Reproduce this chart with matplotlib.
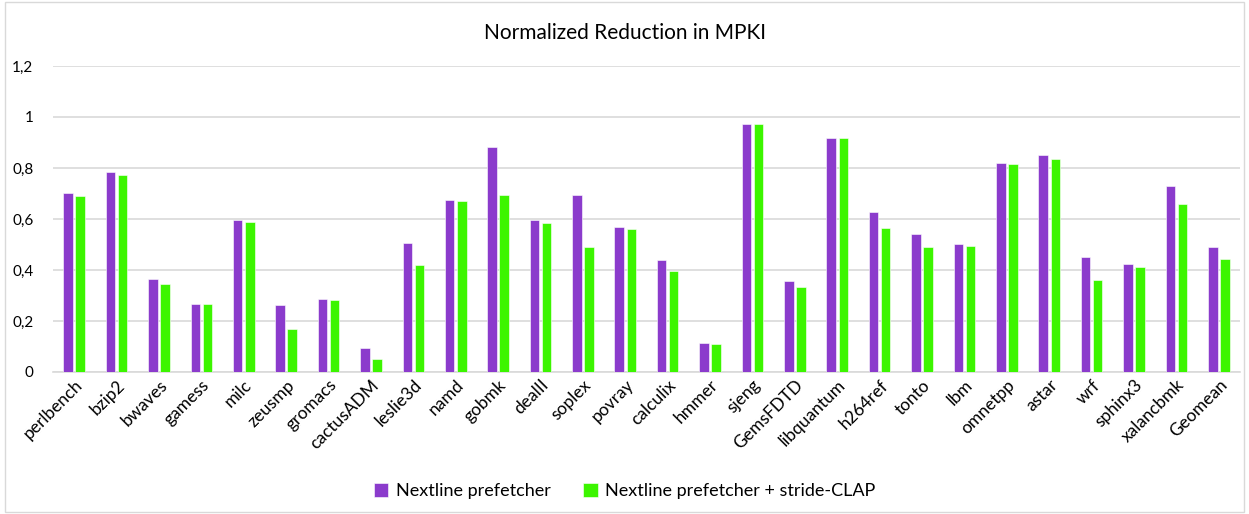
import numpy as np
import matplotlib
matplotlib.use("Agg")
import matplotlib.pyplot as plt
from matplotlib.patches import Rectangle
from matplotlib.ticker import FuncFormatter

# === data ===
benchmarks = [
    "perlbench", "bzip2", "bwaves", "gamess", "milc", "zeusmp", "gromacs",
    "cactusADM", "leslie3d", "namd", "gobmk", "dealII", "soplex", "povray",
    "calculix", "hmmer", "sjeng", "GemsFDTD", "libquantum", "h264ref",
    "tonto", "lbm", "omnetpp", "astar", "wrf", "sphinx3", "xalancbmk", "Geomean",
]
nextline = [
    0.700, 0.784, 0.366, 0.266, 0.595, 0.261, 0.287,
    0.094, 0.507, 0.674, 0.883, 0.595, 0.695, 0.569,
    0.439, 0.115, 0.972, 0.355, 0.919, 0.627,
    0.543, 0.501, 0.820, 0.851, 0.449, 0.423, 0.731, 0.491,
]
nextline_clap = [
    0.691, 0.773, 0.345, 0.266, 0.590, 0.167, 0.282,
    0.052, 0.418, 0.669, 0.695, 0.585, 0.491, 0.559,
    0.397, 0.110, 0.972, 0.334, 0.919, 0.564,
    0.491, 0.496, 0.815, 0.836, 0.360, 0.413, 0.658, 0.444,
]
series_names = ["Nextline prefetcher", "Nextline prefetcher + stride-CLAP"]

purple = "#8B3BCC"
green = "#3CF500"

plt.rcParams["font.family"] = ["Lato", "DejaVu Sans"]

fig = plt.figure(figsize=(12.49, 5.14), dpi=100)
ax = fig.add_axes([0.0424, 0.2763, 0.9504, 0.5953])

x = np.arange(len(benchmarks))
w = 0.225
gap = 0.03
ax.bar(x - w / 2 - gap, nextline, w, color=purple, label=series_names[0],
       edgecolor="white", linewidth=0.4, zorder=3)
ax.bar(x + w / 2 + gap, nextline_clap, w, color=green, label=series_names[1],
       edgecolor="white", linewidth=0.4, zorder=3)

ax.set_xlim(-0.5, len(benchmarks) - 0.5)
ax.set_ylim(0, 1.2)
ax.set_yticks([0, 0.2, 0.4, 0.6, 0.8, 1.0, 1.2])
ax.yaxis.set_major_formatter(FuncFormatter(lambda v, p: f"{v:g}".replace(".", ",")))
ax.grid(axis="y", color="#d9d9d9", linewidth=1.2, zorder=0)
for s in ["top", "right", "left"]:
    ax.spines[s].set_visible(False)
ax.spines["bottom"].set_color("#d9d9d9")
ax.spines["bottom"].set_linewidth(1.2)
ax.tick_params(axis="both", length=0, colors="#000000", labelsize=11)
ax.tick_params(axis="y", pad=14)

ax.set_xticks(x)
ax.set_xticklabels(benchmarks, rotation=45, ha="right", rotation_mode="anchor",
                   fontsize=12.5)

fig.text(0.5, 0.935, "Normalized Reduction in MPKI", ha="center", va="center",
         fontsize=15)

fig.legend(loc="center", bbox_to_anchor=(0.5, 0.045), ncol=2, frameon=False,
           fontsize=13, handlelength=0.8, handleheight=0.8, columnspacing=1.8,
           handletextpad=0.4)

# chart border
fig.patches.append(Rectangle((0.004, 0.004), 0.992, 0.992, transform=fig.transFigure,
                             fill=False, edgecolor="#d9d9d9", linewidth=1))

fig.savefig("out.png", dpi=100)
